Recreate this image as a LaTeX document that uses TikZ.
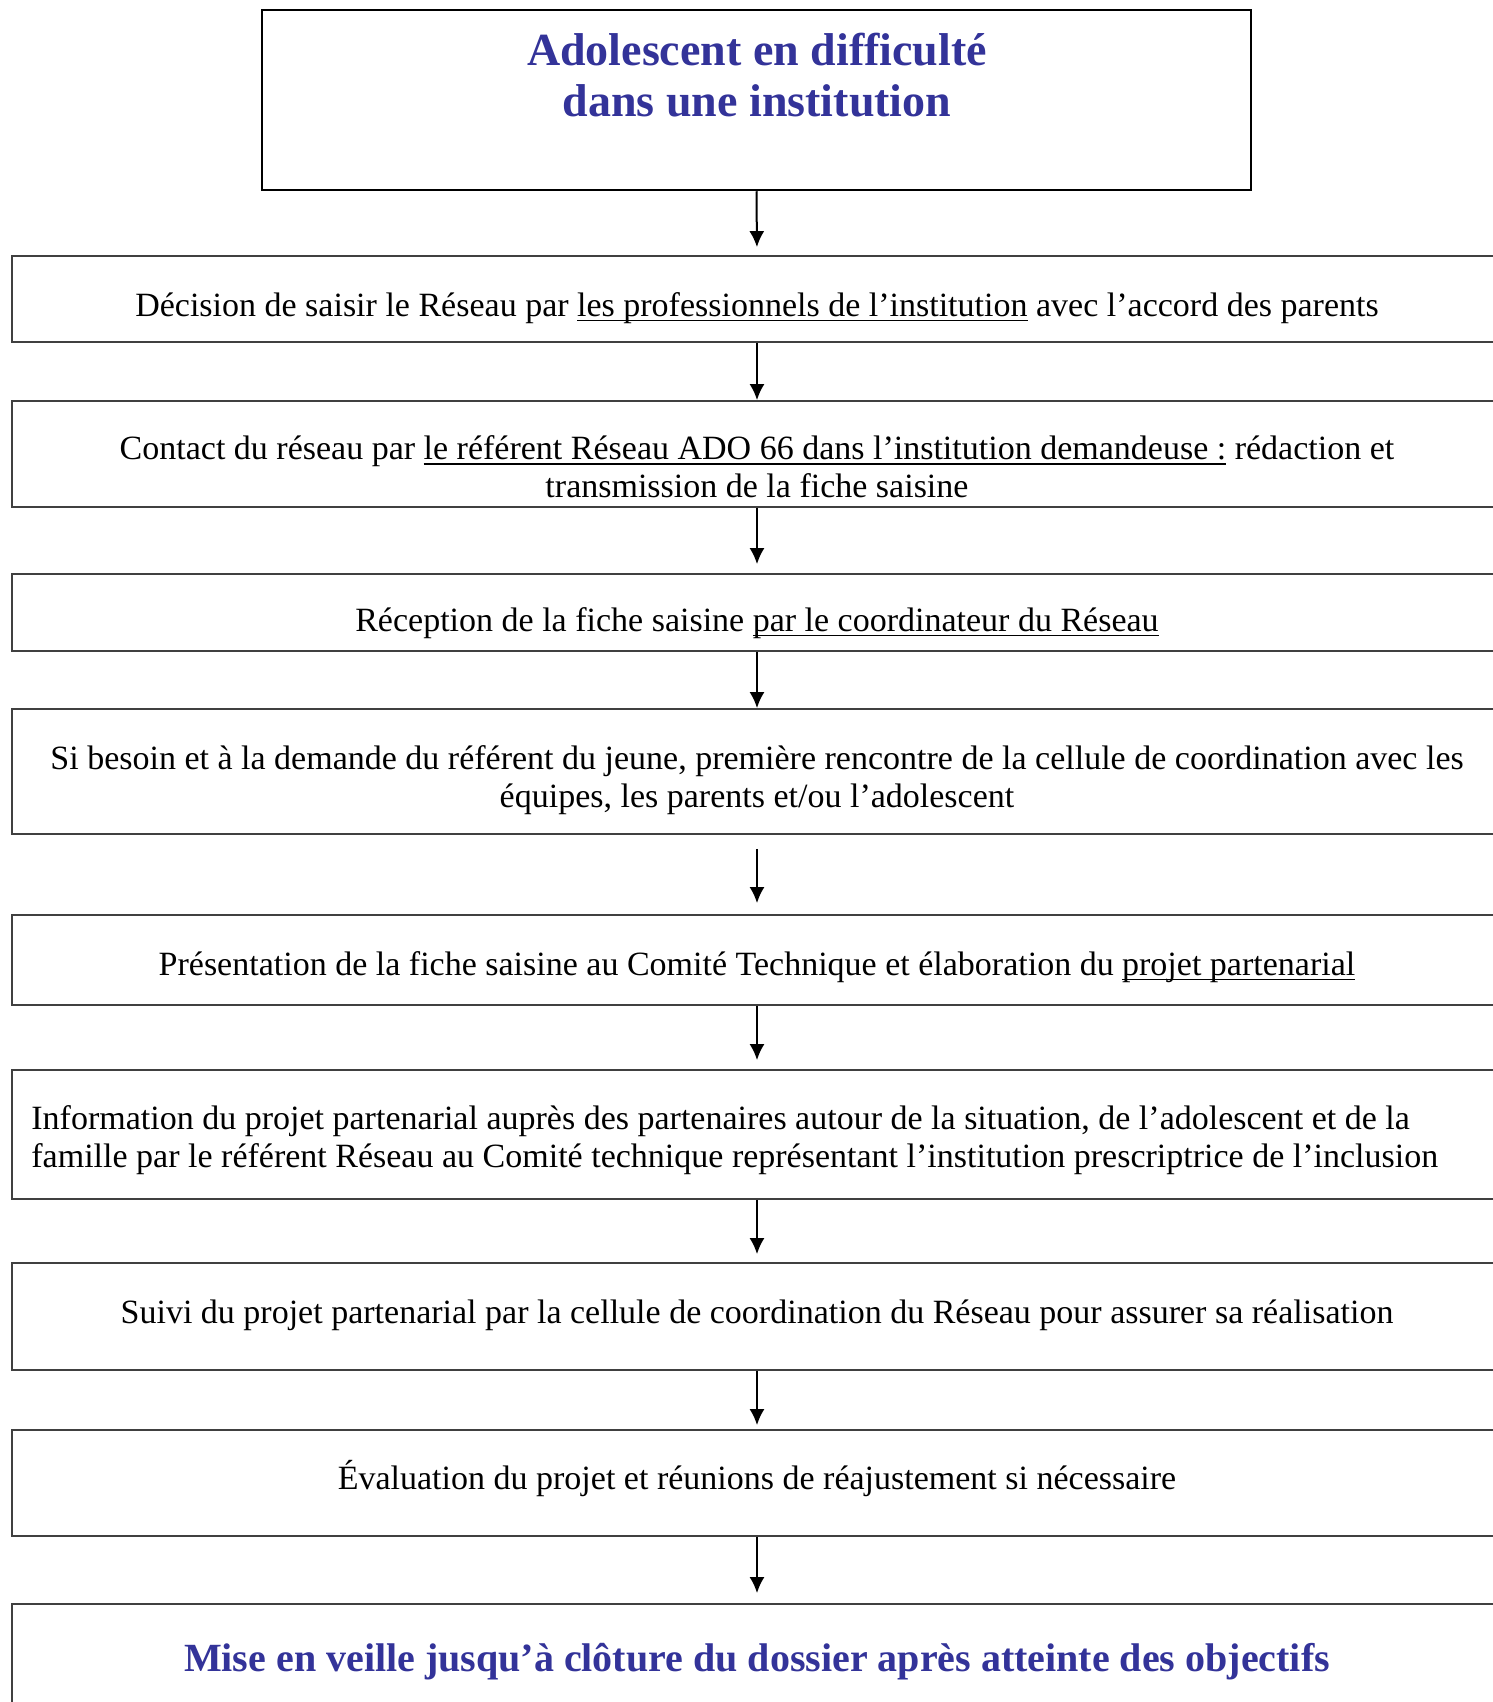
\documentclass[tikz,border=0pt]{standalone}
\usepackage{fontspec}
\setmainfont{Liberation Serif}
\usetikzlibrary{arrows.meta}
\definecolor{titleblue}{RGB}{51,51,153}
\definecolor{boxgray}{RGB}{64,64,64}
\newcommand{\myuline}[1]{\setbox0\hbox{#1}\rlap{\rule[-2.5pt]{\wd0}{0.8pt}}\box0\relax}
\begin{document}
\begin{tikzpicture}[x=0.5pt,y=-0.5pt,
  stepbox/.style={draw=boxgray, line width=0.9pt, minimum width=745pt, inner sep=0pt},
  txt/.style={font=\fontsize{17}{19}\selectfont, align=center, inner sep=0pt},
  ttl/.style={font=\fontsize{23}{25.5}\selectfont\bfseries, text=titleblue, align=center, inner sep=0pt},
  arr/.style={-{Latex[length=8pt,width=7.5pt]}, line width=1pt}]
\useasboundingbox (0,0) rectangle (1493,1702);
\clip (0,0) rectangle (1493,1702);
% boxes
\node[draw=black, line width=1.25pt, minimum width=494.5pt, minimum height=90pt, inner sep=0pt] (top) at (756.5,100) {};
\node[stepbox, minimum height=43pt]   (b1) at (757,299) {};
\node[stepbox, minimum height=53pt]   (b2) at (757,454) {};
\node[stepbox, minimum height=38.5pt] (b3) at (757,612.5) {};
\node[stepbox, minimum height=62.5pt] (b4) at (757,771.5) {};
\node[stepbox, minimum height=45pt]   (b5) at (757,960) {};
\node[stepbox, minimum height=64.5pt] (b6) at (757,1134.5) {};
\node[stepbox, minimum height=53.5pt] (b7) at (757,1316.5) {};
\node[stepbox, minimum height=53pt]   (b8) at (757,1483) {};
\node[stepbox, minimum height=78pt]   (b9) at (757,1682) {};
% texts
\node[ttl] (t0) at (757,75) {Adolescent en difficulté\\dans une institution};
\node[txt] (t1) at (757,308) {Décision de saisir le Réseau par \myuline{les professionnels de l’institution} avec l’accord des parents};
\node[txt] (t2) at (757,467) {Contact du réseau par \myuline{le référent Réseau ADO 66 dans l’institution demandeuse :} rédaction et\\transmission de la fiche saisine};
\node[txt] (t3) at (757,623) {Réception de la fiche saisine \myuline{par le coordinateur du Réseau}};
\node[txt] (t4) at (757,780) {Si besoin et à la demande du référent du jeune, première rencontre de la cellule de coordination avec les\\équipes, les parents et/ou l’adolescent};
\node[txt] (t5) at (757,967) {Présentation de la fiche saisine au Comité Technique et élaboration du \myuline{projet partenarial}};
\node[txt, align=left, anchor=west] (t6) at (31,1140) {Information du projet partenarial auprès des partenaires autour de la situation, de l’adolescent et de la\\famille par le référent Réseau au Comité technique représentant l’institution prescriptrice de l’inclusion};
\node[txt] (t7) at (757,1315) {Suivi du projet partenarial par la cellule de coordination du Réseau pour assurer sa réalisation};
\node[txt] (t8) at (757,1479) {Évaluation du projet et réunions de réajustement si nécessaire};
\node[ttl, font=\fontsize{20}{22}\selectfont\bfseries] (t9) at (757,1662) {Mise en veille jusqu’à clôture du dossier après atteinte des objectifs};
% arrows
\draw[arr, shorten >=4pt] (top.south) -- (b1.north);
\draw[arr] (b1.south) -- (b2.north);
\draw[arr, shorten >=4.5pt] (b2.south) -- (b3.north);
\draw[arr] (b3.south) -- (b4.north);
\draw[arr, shorten <=7pt, shorten >=5.5pt] (b4.south) -- (b5.north);
\draw[arr, shorten >=4.5pt] (b5.south) -- (b6.north);
\draw[arr, shorten >=4pt] (b6.south) -- (b7.north);
\draw[arr, shorten >=2pt] (b7.south) -- (b8.north);
\draw[arr, shorten >=5pt] (b8.south) -- (b9.north);
\end{tikzpicture}
\end{document}
